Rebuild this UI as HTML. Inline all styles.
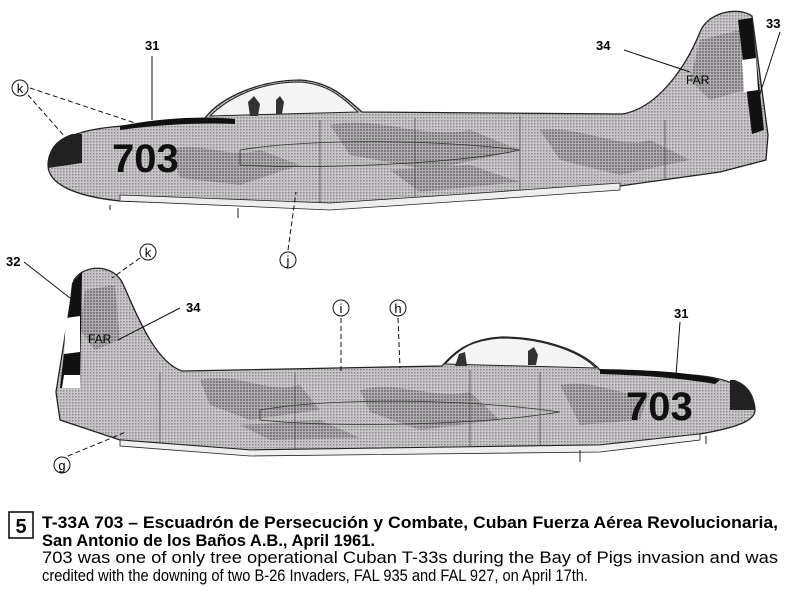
<!DOCTYPE html>
<html><head><meta charset="utf-8"><style>
html,body{margin:0;padding:0;background:#fff;}
svg{display:block;}
</style></head><body>
<svg width="800" height="593" viewBox="0 0 800 593" xmlns="http://www.w3.org/2000/svg">
<defs>
<pattern id="dots" width="3" height="3" patternUnits="userSpaceOnUse">
<rect width="3" height="3" fill="#c9c6c9"/><rect width="1.5" height="1.5" fill="#8d8a8d"/>
</pattern>
<pattern id="dots2" width="3" height="3" patternUnits="userSpaceOnUse">
<rect width="3" height="3" fill="#a9a6a9"/><rect width="2" height="2" fill="#6f6c6f"/>
</pattern>
</defs>
<g font-family="'Liberation Sans',sans-serif" font-weight="bold" font-size="14" fill="#000">

<!-- TOP PLANE -->
<path d="M48,165 C48,143 72,131 112,127 L205,118 C222,96 262,80 300,80 C332,82 348,100 362,112 L622,114 C660,108 688,62 700,32 C708,12 738,6 752,16 L768,135 L766,160 L720,172 L620,186 L480,196 L330,206 L120,201 C72,196 48,183 48,165Z" fill="url(#dots)" stroke="#222" stroke-width="1.3"/>
<path d="M170,150 C200,140 230,160 260,150 L300,165 L240,185 L180,178Z M330,125 C380,115 420,140 470,130 L520,150 L430,170 L350,155Z M540,130 C580,125 620,150 650,140 L690,160 L620,175 L560,160Z M700,40 L740,30 L745,90 L710,100 L690,80Z M390,170 L470,165 L520,182 L420,192Z" fill="url(#dots2)" opacity="0.75"/>
<path d="M240,150 C300,140 420,138 520,150 C470,162 330,170 240,165Z" fill="none" stroke="#333" stroke-width="0.8"/>
<g stroke="#444" stroke-width="0.7"><line x1="320" y1="120" x2="320" y2="205"/><line x1="415" y1="118" x2="415" y2="200"/><line x1="520" y1="116" x2="520" y2="194"/><line x1="665" y1="120" x2="665" y2="180"/></g>
<path d="M210,116 C230,96 262,82 300,82 C330,84 345,100 358,112Z" fill="#f4f4f4" stroke="#222"/>
<path d="M248,102 l6,-6 l6,8 l-2,12 l-8,0Z M276,100 l4,-4 l4,6 l-2,12 l-6,0Z" fill="#333"/>
<path d="M120,126 C160,118 200,116 235,119 L235,124 C190,122 150,126 120,130Z" fill="#111"/>
<path d="M48,165 C48,150 55,140 72,134 L82,134 L82,163 L48,168Z" fill="#222"/>
<path d="M120,195 L330,203 L480,193 L620,183 L620,190 L480,200 L330,210 L120,201Z" fill="#eee" stroke="#222" stroke-width="0.8"/>
<path d="M738,20 L752,18 L764,130 L752,134Z" fill="#111"/>
<path d="M742,60 L756,58 L758,90 L744,92Z" fill="#fff"/>
<line x1="110" y1="205" x2="110" y2="210" stroke="#222"/><line x1="238" y1="208" x2="238" y2="218" stroke="#222"/>
<text x="112" y="172" font-size="40" font-weight="bold" fill="#111">703</text>
<text x="686" y="84" font-size="12" font-weight="normal">FAR</text>

<!-- BOTTOM PLANE -->
<path d="M755,410 C755,390 732,378 692,375 L600,370 C582,350 542,337 502,337 C466,339 452,355 442,366 L182,371 C152,361 132,302 122,282 C112,264 84,264 74,280 L56,392 L60,420 L120,440 L250,450 L600,445 L700,434 C740,427 755,420 755,410Z" fill="url(#dots)" stroke="#222" stroke-width="1.3"/>
<path d="M200,380 C240,372 270,395 300,385 L320,410 L250,420 L210,405Z M360,390 C400,380 430,400 470,392 L500,420 L420,430 L370,412Z M560,385 C600,378 620,400 650,392 L640,420 L580,425Z M85,290 L115,285 L120,340 L95,350 L80,330Z M240,425 L320,420 L360,438 L270,440Z" fill="url(#dots2)" opacity="0.75"/>
<path d="M260,410 C330,398 460,398 560,412 C480,425 340,428 260,420Z" fill="none" stroke="#333" stroke-width="0.8"/>
<g stroke="#444" stroke-width="0.7"><line x1="160" y1="372" x2="160" y2="445"/><line x1="295" y1="372" x2="295" y2="452"/><line x1="470" y1="370" x2="470" y2="448"/><line x1="540" y1="372" x2="540" y2="448"/></g>
<path d="M445,364 C458,350 470,340 502,338 C540,338 578,350 596,368Z" fill="#f4f4f4" stroke="#222"/>
<path d="M455,366 l4,-12 l6,-2 l2,14Z M528,365 l0,-14 l6,-4 l4,8 l-2,10Z" fill="#333"/>
<path d="M600,369 C650,370 690,372 720,380 L715,384 C680,378 640,375 600,374Z" fill="#111"/>
<path d="M755,410 C755,395 748,385 735,380 L730,380 L730,410Z" fill="#222"/>
<path d="M120,440 L250,450 L600,445 L700,434 L700,440 L600,452 L250,456 L120,446Z" fill="#eee" stroke="#222" stroke-width="0.8"/>
<path d="M72,283 L82,272 L80,388 L60,388Z" fill="#111"/>
<path d="M66,318 L80,316 L80,352 L64,354Z" fill="#fff"/>
<path d="M64,375 L80,375 L80,388 L62,388Z" fill="#fff"/>
<line x1="580" y1="450" x2="580" y2="462" stroke="#222"/><line x1="706" y1="436" x2="706" y2="444" stroke="#222"/>
<text x="626" y="420" font-size="40" font-weight="bold" fill="#111">703</text>
<text x="88" y="343" font-size="12" font-weight="normal">FAR</text>

<!-- callouts -->
<g stroke="#111" stroke-width="1" fill="none">
<line x1="152" y1="56" x2="152" y2="120"/>
<line x1="28" y1="95" x2="66" y2="138" stroke-dasharray="5,3"/>
<line x1="30" y1="88" x2="135" y2="123" stroke-dasharray="5,3"/>
<line x1="624" y1="50" x2="690" y2="72"/>
<line x1="780" y1="32" x2="758" y2="100"/>
<line x1="288" y1="250" x2="296" y2="192" stroke-dasharray="5,3"/>
<line x1="24" y1="262" x2="70" y2="298"/>
<line x1="140" y1="258" x2="112" y2="278" stroke-dasharray="5,3"/>
<line x1="180" y1="308" x2="118" y2="340"/>
<line x1="341" y1="318" x2="341" y2="372" stroke-dasharray="5,3"/>
<line x1="398" y1="318" x2="400" y2="368" stroke-dasharray="5,3"/>
<line x1="680" y1="322" x2="676" y2="375"/>
<line x1="68" y1="456" x2="126" y2="432" stroke-dasharray="5,3"/>
<circle cx="20" cy="88" r="8"/><circle cx="148" cy="252" r="8"/>
<circle cx="288" cy="260" r="8"/><circle cx="341" cy="308" r="8"/>
<circle cx="398" cy="308" r="8"/><circle cx="62" cy="465" r="8"/>
</g>
<g font-weight="normal" font-size="13" text-anchor="middle">
<text x="20" y="93">k</text><text x="148" y="257">k</text><text x="288" y="265">j</text>
<text x="341" y="313">i</text><text x="398" y="313">h</text><text x="62" y="470">g</text>
</g>
<text x="145" y="50" font-size="13">31</text>
<text x="596" y="50" font-size="13">34</text>
<text x="766" y="28" font-size="13">33</text>
<text x="6" y="266" font-size="13">32</text>
<text x="186" y="312" font-size="13">34</text>
<text x="674" y="318" font-size="13">31</text>

<!-- caption -->
<rect x="9" y="512" width="24" height="26" fill="none" stroke="#111" stroke-width="1.6"/>
<text x="21" y="533" font-size="20" text-anchor="middle">5</text>
<text x="42" y="528" font-size="17" textLength="736" lengthAdjust="spacingAndGlyphs">T-33A 703 – Escuadrón de Persecución y Combate, Cuban Fuerza Aérea Revolucionaria,</text>
<text x="42" y="546" font-size="17" textLength="333" lengthAdjust="spacingAndGlyphs">San Antonio de los Baños A.B., April 1961.</text>
<text x="42" y="563" font-size="17" font-weight="normal" textLength="736" lengthAdjust="spacingAndGlyphs">703 was one of only tree operational Cuban T-33s during the Bay of Pigs invasion and was</text>
<text x="42" y="581" font-size="17" font-weight="normal" textLength="546" lengthAdjust="spacingAndGlyphs">credited with the downing of two B-26 Invaders, FAL 935 and FAL 927, on April 17th.</text>
</g>
</svg>
</body></html>
